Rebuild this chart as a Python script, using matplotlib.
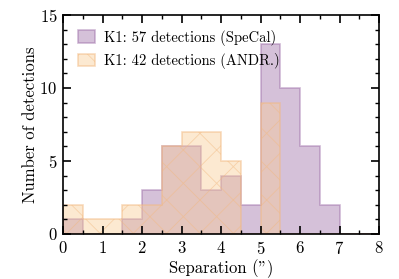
import matplotlib
matplotlib.use("Agg")
import matplotlib.pyplot as plt
import numpy as np

bin_edges = np.arange(0, 8.01, 0.5)
specal_counts = [1, 0, 0, 1, 3, 6, 6, 3, 4, 2, 13, 10, 6, 2, 0, 0]
andr_counts = [2, 1, 1, 2, 2, 6, 7, 7, 5, 0, 9, 0, 0, 0, 0, 0]
labels = ["K1: 57 detections (SpeCal)", "K1: 42 detections (ANDR.)"]

plt.rcParams['font.family'] = ['cmr10', 'DejaVu Serif']
plt.rcParams['mathtext.fontset'] = 'cm'
plt.rcParams['axes.formatter.use_mathtext'] = True
plt.rcParams['hatch.linewidth'] = 0.6

fig = plt.figure(figsize=(3.99, 2.79), dpi=100)
ax = fig.add_axes([63/399, 45/279, 316/399, 219/279])

centers = bin_edges[:-1] + 0.25
ax.hist(centers, bins=bin_edges, weights=specal_counts, histtype='stepfilled',
        facecolor=(150/255, 100/255, 162/255, 0.4), edgecolor=(150/255, 100/255, 162/255, 0.45),
        linewidth=1.2, label=labels[0])
plt.rcParams['hatch.color'] = (0.7, 0.5, 0.48, 0.5)
ax.hist(centers, bins=bin_edges, weights=andr_counts, histtype='stepfilled',
        facecolor=(250/255, 204/255, 150/255, 0.43), edgecolor=(0.95, 0.72, 0.5, 0.5),
        linewidth=1.2, hatch='x', label=labels[1])

ax.set_xlim(0, 8)
ax.set_ylim(0, 15)
ax.set_xticks(np.arange(0, 9, 1))
ax.set_xticks(np.arange(0, 8.01, 0.5), minor=True)
ax.set_yticks([0, 5, 10, 15])
ax.set_yticks(np.arange(0, 16, 1), minor=True)
ax.tick_params(which='both', direction='in', top=True, right=True, labelsize=12)
ax.tick_params(which='major', length=6, width=1.2, pad=4)
ax.tick_params(which='minor', length=3, width=1)
for s in ax.spines.values():
    s.set_linewidth(1.2)
ax.set_xlabel('Separation (")', fontsize=12, labelpad=2)
ax.set_ylabel('Number of detections', fontsize=12, labelpad=1)
ax.legend(loc='upper left', frameon=False, fontsize=10.5, handlelength=1.2,
          handleheight=0.9, borderaxespad=0.6, handletextpad=0.6)

fig.savefig('out.png', dpi=100)
